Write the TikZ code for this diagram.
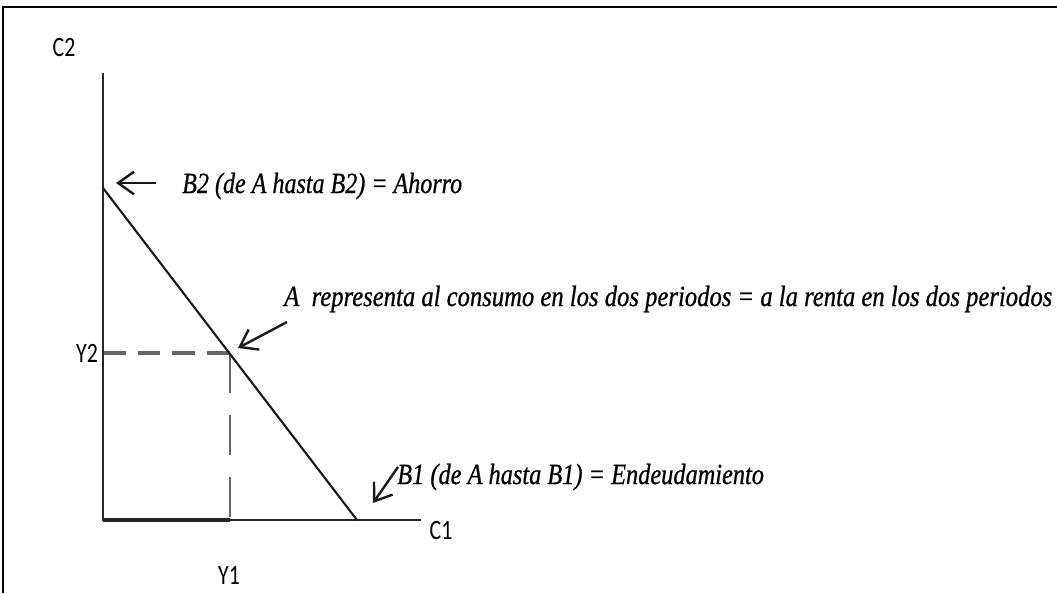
\documentclass[tikz,border=0pt]{standalone}
\usepackage{fontspec}
\setmainfont{Liberation Serif}
\newfontfamily\notefont[FakeBold=0.8]{Liberation Serif Italic}
\newfontfamily\axisfont{Carlito}
\usetikzlibrary{arrows.meta}
\definecolor{dashgray}{HTML}{666666}
\newcommand{\narrow}[2]{\scalebox{#1}[1]{#2}}
\tikzset{
  axisline/.style={line width=1.7pt, black!85},
  budget/.style={line width=1.6pt, black!90},
  guideh/.style={line width=2.6pt, dashgray, dash pattern=on 17pt off 9pt},
  guidev/.style={line width=2.2pt, dashgray, dash pattern=on 30pt off 16.5pt},
  pointer/.style={line width=1.8pt, black!90, -{Straight Barb[length=12pt,width=17pt,line width=1.8pt]}},
  axislabel/.style={font=\axisfont\fontsize{21}{24}\selectfont, inner sep=0pt},
  note/.style={font=\notefont\fontsize{22}{25}\selectfont, inner sep=0pt, anchor=west},
}
\begin{document}
\begin{tikzpicture}[x=0.75pt,y=-0.75pt]
\useasboundingbox (0,0) rectangle (1057,593);
% frame
\draw[line width=2.2pt] (3,593) -- (3,7) -- (1057,7);
% key points
\coordinate (O) at (103,520);
\coordinate (C2top) at (103,73);
\coordinate (C1end) at (421,520);
\coordinate (B2) at (103,188);
\coordinate (B1) at (357,520);
\coordinate (A) at (230,353);
\coordinate (Y2ax) at (103,353);
\coordinate (Y1ax) at (230,520);
% guides
\draw[guideh] (Y2ax) -- (A);
\draw[guidev] (A) -- (Y1ax);
% axes
\draw[axisline] (C2top) -- (O) -- (C1end);
\draw[line width=2.3pt, black!85] (O) -- (Y1ax);
% budget line
\draw[budget] (B2) -- (B1);
% axis labels
\node[axislabel] (lC2) at (64,48) {\narrow{0.78}{C2}};
\node[axislabel] (lY2) at (87,353) {\narrow{0.78}{Y2}};
\node[axislabel] (lY1) at (229,575) {\narrow{0.78}{Y1}};
\node[axislabel] (lC1) at (441,531) {\narrow{0.78}{C1}};
% notes
\node[note] (tB2) at (182,186) {\narrow{0.82}{B2 (de A hasta B2) = Ahorro}};
\node[note] (tA) at (284,299) {\narrow{0.84}{A\ \ representa al consumo en los dos periodos = a la renta en los dos periodos}};
\node[note] (tB1) at (397,477) {\narrow{0.83}{B1 (de A hasta B1) = Endeudamiento}};
% pointers
\coordinate (pB2s) at (156,183);
\coordinate (pB2e) at (116,183);
\coordinate (pAs) at (287,322);
\coordinate (pAe) at (238,348);
\coordinate (pB1s) at (398,467);
\coordinate (pB1e) at (373,503);
\draw[pointer] (pB2s) -- (pB2e);
\draw[pointer] (pAs) -- (pAe);
\draw[pointer] (pB1s) -- (pB1e);
\end{tikzpicture}
\end{document}
